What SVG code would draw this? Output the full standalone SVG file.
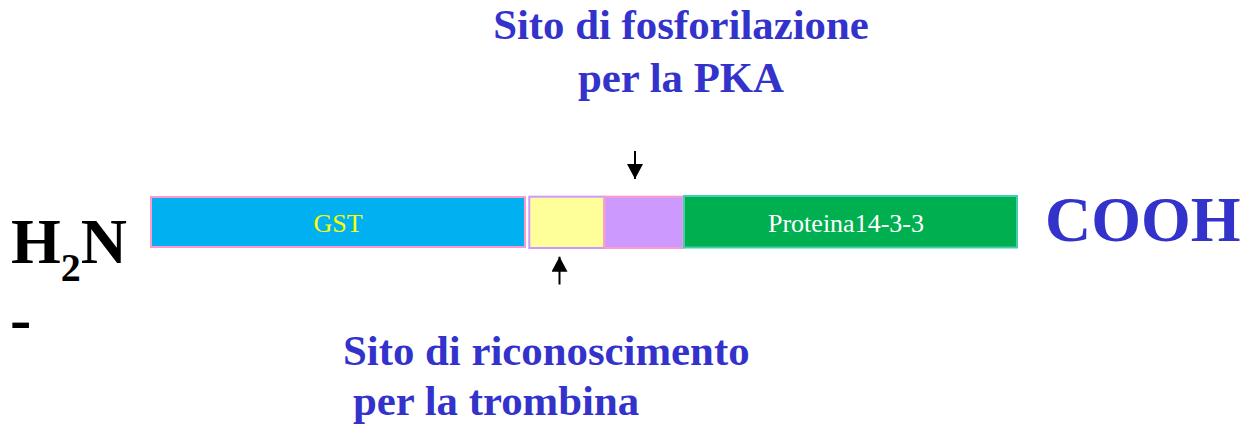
<svg xmlns="http://www.w3.org/2000/svg" width="1241" height="425" viewBox="0 0 1241 425">
<style>
.lbl{font-family:"Liberation Serif","Times New Roman",serif;font-weight:bold;fill:#3333CC;font-size:42.8px}
.big{font-family:"Liberation Serif","Times New Roman",serif;font-weight:bold;font-size:64px}
.in{font-family:"Liberation Serif","Times New Roman",serif;font-size:26px}
.arr{stroke:#000;stroke-width:2;fill:none}
</style>
<defs>
<marker id="ah" viewBox="0 0 15 16" refX="15" refY="8" markerWidth="15" markerHeight="16" markerUnits="userSpaceOnUse" orient="auto">
<path d="M0,0 L15,8 L0,16 Z" fill="#000"/>
</marker>
</defs>
<rect width="1241" height="425" fill="#fff"/>
<g id="title-top">
<text class="lbl" x="681" y="39" text-anchor="middle">Sito di fosforilazione</text>
<text class="lbl" x="681" y="92" text-anchor="middle">per la PKA</text>
</g>
<g id="title-bottom">
<text class="lbl" x="343" y="365">Sito di riconoscimento</text>
<text class="lbl" x="353" y="415">per la trombina</text>
</g>
<g id="h2n">
<text class="big" x="11" y="263" fill="#000">H<tspan font-size="40" dy="18">2</tspan><tspan dy="-18">N</tspan></text>
<text class="big" x="10" y="340" fill="#000">-</text>
</g>
<g id="cooh">
<text class="big" x="1045" y="241" fill="#3333CC">COOH</text>
</g>
<g id="gst">
<rect x="151" y="197" width="374" height="50" fill="#00B0F0" stroke="#FF99CC" stroke-width="2"/>
<text class="in" x="338" y="232" text-anchor="middle" fill="#FFFF00">GST</text>
</g>
<g id="thrombin-site">
<rect x="529.3" y="196.7" width="75" height="51.3" fill="#FFFF99" stroke="#CC99FF" stroke-width="2"/>
</g>
<g id="pka-site">
<rect x="604.5" y="196.7" width="78.8" height="51.3" fill="#CC99FF" stroke="#FF99CC" stroke-width="2"/>
</g>
<g id="protein">
<rect x="684" y="196" width="333" height="51.5" fill="#00B050" stroke="#40D0B0" stroke-width="2"/>
<text class="in" x="768" y="232" fill="#FFFFFF">Proteina14-3-3</text>
</g>
<g id="connectors">
<line class="arr" x1="635" y1="151" x2="635" y2="179" marker-end="url(#ah)"/>
<line class="arr" x1="559.5" y1="284.5" x2="559.5" y2="256.7" marker-end="url(#ah)"/>
</g>
</svg>
